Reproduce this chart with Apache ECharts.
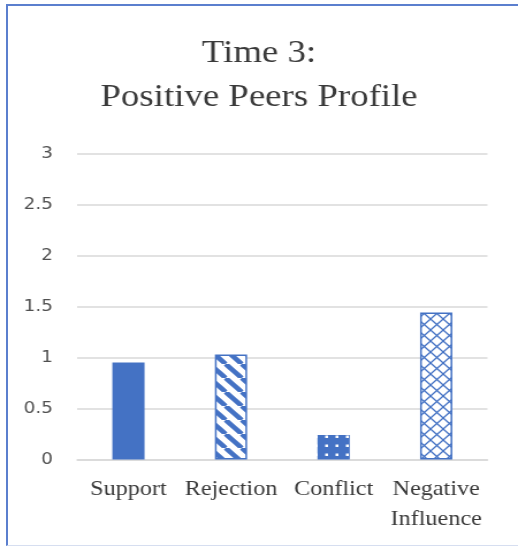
<!DOCTYPE html>
<html>
<head>
<meta charset="utf-8">
<script src="https://cdn.jsdelivr.net/npm/echarts@6/dist/echarts.min.js"></script>
<style>
  html, body { margin: 0; padding: 0; background: #fff; overflow: hidden; }
  #wrap { position: relative; width: 518px; height: 546px; overflow: hidden; }
  #frame {
    position: absolute; left: 6px; top: 4px; width: 600px; height: 539px;
    border-left: 2px solid #5b7fce; border-top: 2px solid #5b7fce; border-bottom: 1px solid #d6def0;
  }
  /* the reference is stretched sideways, so the chart is drawn narrow and widened */
  #chart { position: absolute; left: 0; top: 0; width: 450px; height: 546px; transform: scaleX(1.1511); transform-origin: 0 0; }
</style>
</head>
<body>
<div id="wrap">
  <div id="frame"></div>
  <div id="chart"></div>
</div>
<script>
const categories = ['Support', 'Rejection', 'Conflict', 'Negative Influence']
const values = [0.95, 1.03, 0.24, 1.44]
const yTicks = { min: 0, max: 3, interval: 0.5 }

const BLUE = '#4472c4'

// fill patterns like the Excel ones
const makeTile = (w, h, draw) => {
  const c = document.createElement('canvas')
  c.width = w
  c.height = h
  draw(c.getContext('2d'), w, h)
  return c
}

const stripes = makeTile(14, 14, (ctx, n) => {
  ctx.fillStyle = '#fff'
  ctx.fillRect(0, 0, n, n)
  ctx.strokeStyle = BLUE
  ctx.lineWidth = 4.5
  for (const o of [-n, 0, n]) {
    ctx.beginPath()
    ctx.moveTo(o, 0)
    ctx.lineTo(o + n, n)
    ctx.stroke()
  }
})

const dots = makeTile(9, 9, (ctx, n) => {
  ctx.fillStyle = BLUE
  ctx.fillRect(0, 0, n, n)
  ctx.fillStyle = '#fff'
  ctx.fillRect(3.5, 3.5, 2.5, 2.5)
})

const crosshatch = makeTile(11, 11, (ctx, n) => {
  ctx.fillStyle = '#fff'
  ctx.fillRect(0, 0, n, n)
  ctx.strokeStyle = BLUE
  ctx.lineWidth = 1.3
  for (const o of [-n, 0, n]) {
    ctx.beginPath()
    ctx.moveTo(o, 0)
    ctx.lineTo(o + n, n)
    ctx.moveTo(o + n, 0)
    ctx.lineTo(o, n)
    ctx.stroke()
  }
})

const fills = [
  { color: BLUE },
  { color: { image: stripes, repeat: 'repeat' }, borderColor: BLUE, borderWidth: 1.5 },
  { color: { image: dots, repeat: 'repeat' } },
  { color: { image: crosshatch, repeat: 'repeat' }, borderColor: BLUE, borderWidth: 1.5 }
]

const chart = echarts.init(document.getElementById('chart'))

chart.setOption({
  animation: false,
  title: {
    text: 'Time 3:\nPositive Peers Profile',
    left: 'center',
    top: 32,
    padding: 0,
    textStyle: {
      fontFamily: 'Liberation Serif', fontSize: 32, fontWeight: 'normal',
      color: '#3a3a3a', lineHeight: 44
    }
  },
  grid: { left: 67, right: 26.5, top: 153.5, bottom: 86.5, containLabel: false },
  xAxis: {
    type: 'category',
    data: categories,
    axisLine: { lineStyle: { color: '#d9d9d9', width: 1.5 } },
    axisTick: { show: false },
    axisLabel: {
      interval: 0, margin: 15,
      fontFamily: 'Liberation Serif', fontSize: 21, lineHeight: 30, color: '#3a3a3a',
      formatter: v => v.replace(' ', '\n')
    }
  },
  yAxis: {
    type: 'value',
    min: yTicks.min, max: yTicks.max, interval: yTicks.interval,
    axisLine: { show: false },
    axisTick: { show: false },
    splitLine: { lineStyle: { color: '#d9d9d9', width: 1.5 } },
    axisLabel: { margin: 21, fontFamily: 'DejaVu Sans', fontSize: 16, color: '#505050' }
  },
  series: [
    {
      type: 'bar',
      barWidth: 28,
      data: values.map((v, i) => ({ value: v, itemStyle: fills[i] }))
    }
  ]
})
</script>
</body>
</html>
